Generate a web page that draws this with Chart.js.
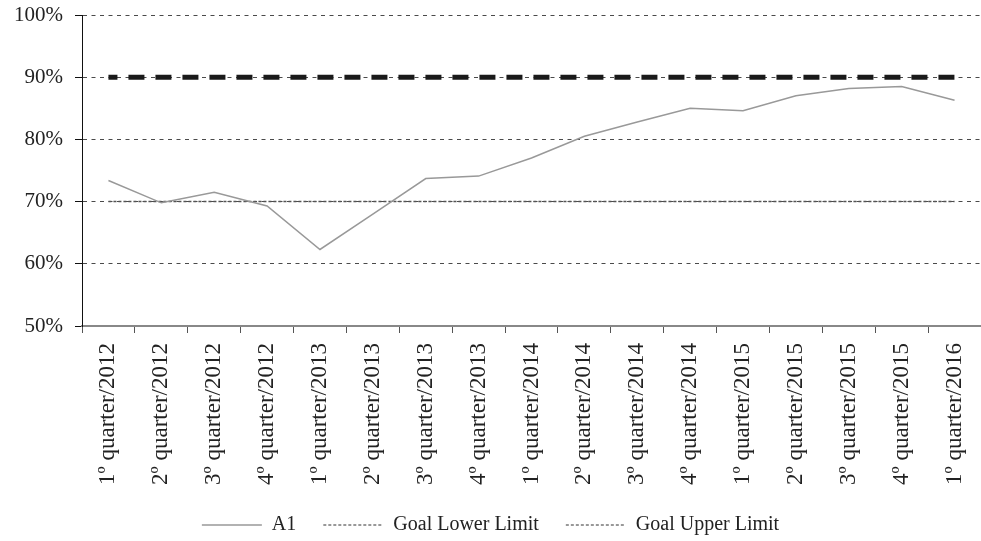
<!DOCTYPE html>
<html>
<head>
<meta charset="utf-8">
<script src="https://cdn.jsdelivr.net/npm/chart.js@4.4.1/dist/chart.umd.min.js"></script>
<style>
  html, body { margin: 0; padding: 0; background: #fff; }
  #wrap { width: 981px; height: 541px; }
</style>
</head>
<body>
<div id="wrap"><canvas id="myChart" width="981" height="541"></canvas></div>
<script>
'use strict'
// quarters on the x axis
let quarters = ['1º quarter/2012','2º quarter/2012','3º quarter/2012','4º quarter/2012',
'1º quarter/2013','2º quarter/2013','3º quarter/2013','4º quarter/2013',
'1º quarter/2014','2º quarter/2014','3º quarter/2014','4º quarter/2014',
'1º quarter/2015','2º quarter/2015','3º quarter/2015','4º quarter/2015',
'1º quarter/2016'];

// values, in %
let a1Values = [73.4, 69.8, 71.5, 69.3, 62.3, 68.0, 73.7, 74.1, 77.0, 80.5, 82.8, 85.0, 84.6, 87.0, 88.2, 88.5, 86.3];
let goalLower = [70, 70, 70, 70, 70, 70, 70, 70, 70, 70, 70, 70, 70, 70, 70, 70, 70];
let goalUpper = [90, 90, 90, 90, 90, 90, 90, 90, 90, 90, 90, 90, 90, 90, 90, 90, 90];

let yMin = 50;
let yMax = 100;
let yStep = 10;

Chart.defaults.font.family = "'Liberation Serif', 'DejaVu Serif', serif";
Chart.defaults.color = '#222';

function chartRender(){
    let ctx = document.getElementById('myChart').getContext('2d');
    let myChart = new Chart(ctx, {
        type: 'line',
        data: {
            labels: quarters,
            datasets: [{
                label: 'A1',
                data: a1Values,
                borderColor: '#999999',
                borderWidth: 1.5,
                pointRadius: 0,
                tension: 0,
                order: 1
            },{
                label: 'Goal Lower Limit',
                data: goalLower,
                borderColor: '#555555',
                borderWidth: 1.5,
                borderDash: [3, 2],
                pointRadius: 0,
                order: 2
            },{
                label: 'Goal Upper Limit',
                data: goalUpper,
                borderColor: '#1a1a1a',
                borderWidth: 5,
                borderDash: [16, 11],
                borderDashOffset: 7,
                pointRadius: 0,
                order: 3
            }]
        },
        options: {
            responsive: false,
            animation: false,
            layout: { padding: { top: 15, right: 0, bottom: -4, left: 0 } },
            plugins: {
                tooltip: { enabled: false },
                legend: {
                    position: 'bottom',
                    labels: {
                        usePointStyle: true,
                        pointStyleWidth: 60,
                        padding: 27,
                        font: { size: 20 },
                        color: '#222',
                        generateLabels: function(chart){
                            return chart.data.datasets.map(function(ds, i){
                                return {
                                    text: ds.label,
                                    datasetIndex: i,
                                    pointStyle: 'line',
                                    strokeStyle: i === 0 ? '#999999' : '#333333',
                                    fillStyle: 'transparent',
                                    lineWidth: i === 0 ? 1.5 : 1,
                                    lineDash: i === 0 ? [] : [3, 2],
                                    fontColor: '#222'
                                };
                            });
                        }
                    }
                }
            },
            scales: {
                x: {
                    offset: true,
                    grid: {
                        drawOnChartArea: false,
                        drawTicks: true,
                        tickLength: 7,
                        offset: true,
                        color: '#777',
                        tickColor: '#555'
                    },
                    border: { color: '#888', width: 2 },
                    ticks: {
                        minRotation: 90,
                        maxRotation: 90,
                        autoSkip: false,
                        padding: 10,
                        font: { size: 23 },
                        color: '#222'
                    },
                    afterFit: function(scale){
                        scale.height = 162;
                        scale.paddingLeft = 0;
                        scale.paddingRight = 0;
                    }
                },
                y: {
                    min: yMin,
                    max: yMax,
                    grid: {
                        drawTicks: true,
                        tickLength: 7,
                        color: '#4a4a4a',
                        tickColor: '#111',
                        lineWidth: 1
                    },
                    border: { color: '#111', width: 1, dash: [4, 4.5] },
                    ticks: {
                        stepSize: yStep,
                        padding: 12,
                        font: { size: 21 },
                        color: '#222',
                        callback: function(v){ return v + '%'; }
                    },
                    afterFit: function(scale){
                        scale.width = 82;
                        scale.paddingTop = 0;
                        scale.paddingBottom = 0;
                    }
                }
            }
        }
    });
}

chartRender();
</script>
</body>
</html>
